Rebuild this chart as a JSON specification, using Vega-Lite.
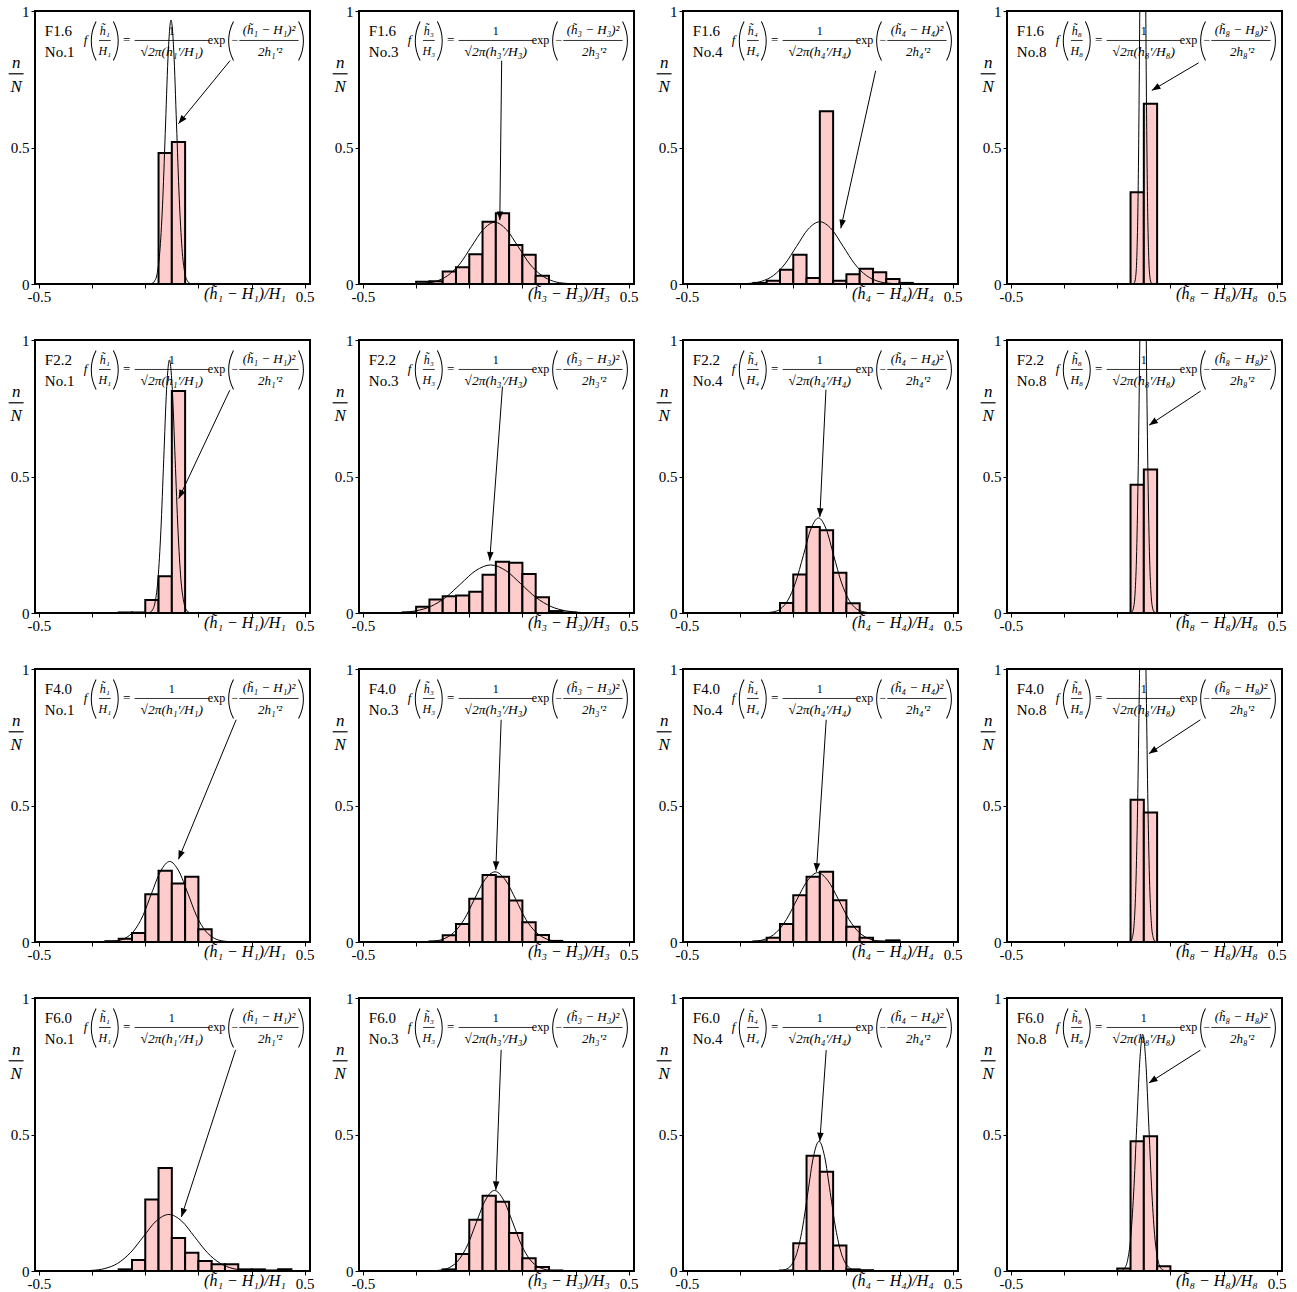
{
"$schema":"https://vega.github.io/schema/vega-lite/v6.json",
"autosize":{"type":"pad"},
"padding":{"left":7,"top":3,"right":0,"bottom":0},
"background":"white",
"config":{"view":{"stroke":"black","strokeWidth":2},"font":"Liberation Serif","axis":{"labelFont":"Liberation Serif","labelColor":"black","tickColor":"black"}},
"data":{"values":[
{"F":"F1.6","No":"No.1","k":"b","x0":-0.05,"x1":0,"v":0.48},{"F":"F1.6","No":"No.1","k":"b","x0":0,"x1":0.05,"v":0.52},
{"F":"F1.6","No":"No.3","k":"b","x0":-0.3,"x1":-0.25,"v":0.008},{"F":"F1.6","No":"No.3","k":"b","x0":-0.25,"x1":-0.2,"v":0.01},{"F":"F1.6","No":"No.3","k":"b","x0":-0.2,"x1":-0.15,"v":0.046},{"F":"F1.6","No":"No.3","k":"b","x0":-0.15,"x1":-0.1,"v":0.061},{"F":"F1.6","No":"No.3","k":"b","x0":-0.1,"x1":-0.05,"v":0.109},{"F":"F1.6","No":"No.3","k":"b","x0":-0.05,"x1":0,"v":0.228},{"F":"F1.6","No":"No.3","k":"b","x0":0,"x1":0.05,"v":0.259},{"F":"F1.6","No":"No.3","k":"b","x0":0.05,"x1":0.1,"v":0.143},{"F":"F1.6","No":"No.3","k":"b","x0":0.1,"x1":0.15,"v":0.107},{"F":"F1.6","No":"No.3","k":"b","x0":0.15,"x1":0.2,"v":0.03},
{"F":"F1.6","No":"No.4","k":"b","x0":-0.25,"x1":-0.2,"v":0.004},{"F":"F1.6","No":"No.4","k":"b","x0":-0.2,"x1":-0.15,"v":0.012},{"F":"F1.6","No":"No.4","k":"b","x0":-0.15,"x1":-0.1,"v":0.052},{"F":"F1.6","No":"No.4","k":"b","x0":-0.1,"x1":-0.05,"v":0.107},{"F":"F1.6","No":"No.4","k":"b","x0":-0.05,"x1":0,"v":0.022},{"F":"F1.6","No":"No.4","k":"b","x0":0,"x1":0.05,"v":0.633},{"F":"F1.6","No":"No.4","k":"b","x0":0.05,"x1":0.1,"v":0.012},{"F":"F1.6","No":"No.4","k":"b","x0":0.1,"x1":0.15,"v":0.036},{"F":"F1.6","No":"No.4","k":"b","x0":0.15,"x1":0.2,"v":0.056},{"F":"F1.6","No":"No.4","k":"b","x0":0.2,"x1":0.25,"v":0.043},{"F":"F1.6","No":"No.4","k":"b","x0":0.25,"x1":0.3,"v":0.018},{"F":"F1.6","No":"No.4","k":"b","x0":0.3,"x1":0.35,"v":0.004},
{"F":"F1.6","No":"No.8","k":"b","x0":-0.05,"x1":0,"v":0.336},{"F":"F1.6","No":"No.8","k":"b","x0":0,"x1":0.05,"v":0.66},
{"F":"F2.2","No":"No.1","k":"b","x0":-0.2,"x1":-0.15,"v":0.002},{"F":"F2.2","No":"No.1","k":"b","x0":-0.15,"x1":-0.1,"v":0.002},{"F":"F2.2","No":"No.1","k":"b","x0":-0.1,"x1":-0.05,"v":0.048},{"F":"F2.2","No":"No.1","k":"b","x0":-0.05,"x1":0,"v":0.135},{"F":"F2.2","No":"No.1","k":"b","x0":0,"x1":0.05,"v":0.813},
{"F":"F2.2","No":"No.3","k":"b","x0":-0.35,"x1":-0.3,"v":0.002},{"F":"F2.2","No":"No.3","k":"b","x0":-0.3,"x1":-0.25,"v":0.023},{"F":"F2.2","No":"No.3","k":"b","x0":-0.25,"x1":-0.2,"v":0.049},{"F":"F2.2","No":"No.3","k":"b","x0":-0.2,"x1":-0.15,"v":0.061},{"F":"F2.2","No":"No.3","k":"b","x0":-0.15,"x1":-0.1,"v":0.064},{"F":"F2.2","No":"No.3","k":"b","x0":-0.1,"x1":-0.05,"v":0.078},{"F":"F2.2","No":"No.3","k":"b","x0":-0.05,"x1":0,"v":0.14},{"F":"F2.2","No":"No.3","k":"b","x0":0,"x1":0.05,"v":0.188},{"F":"F2.2","No":"No.3","k":"b","x0":0.05,"x1":0.1,"v":0.184},{"F":"F2.2","No":"No.3","k":"b","x0":0.1,"x1":0.15,"v":0.143},{"F":"F2.2","No":"No.3","k":"b","x0":0.15,"x1":0.2,"v":0.058},{"F":"F2.2","No":"No.3","k":"b","x0":0.2,"x1":0.25,"v":0.007},{"F":"F2.2","No":"No.3","k":"b","x0":0.25,"x1":0.3,"v":0.002},
{"F":"F2.2","No":"No.4","k":"b","x0":-0.15,"x1":-0.1,"v":0.037},{"F":"F2.2","No":"No.4","k":"b","x0":-0.1,"x1":-0.05,"v":0.141},{"F":"F2.2","No":"No.4","k":"b","x0":-0.05,"x1":0,"v":0.315},{"F":"F2.2","No":"No.4","k":"b","x0":0,"x1":0.05,"v":0.303},{"F":"F2.2","No":"No.4","k":"b","x0":0.05,"x1":0.1,"v":0.147},{"F":"F2.2","No":"No.4","k":"b","x0":0.1,"x1":0.15,"v":0.036},
{"F":"F2.2","No":"No.8","k":"b","x0":-0.05,"x1":0,"v":0.47},{"F":"F2.2","No":"No.8","k":"b","x0":0,"x1":0.05,"v":0.526},
{"F":"F4.0","No":"No.1","k":"b","x0":-0.25,"x1":-0.2,"v":0.003},{"F":"F4.0","No":"No.1","k":"b","x0":-0.2,"x1":-0.15,"v":0.012},{"F":"F4.0","No":"No.1","k":"b","x0":-0.15,"x1":-0.1,"v":0.033},{"F":"F4.0","No":"No.1","k":"b","x0":-0.1,"x1":-0.05,"v":0.175},{"F":"F4.0","No":"No.1","k":"b","x0":-0.05,"x1":0,"v":0.261},{"F":"F4.0","No":"No.1","k":"b","x0":0,"x1":0.05,"v":0.214},{"F":"F4.0","No":"No.1","k":"b","x0":0.05,"x1":0.1,"v":0.239},{"F":"F4.0","No":"No.1","k":"b","x0":0.1,"x1":0.15,"v":0.047},
{"F":"F4.0","No":"No.3","k":"b","x0":-0.25,"x1":-0.2,"v":0.002},{"F":"F4.0","No":"No.3","k":"b","x0":-0.2,"x1":-0.15,"v":0.025},{"F":"F4.0","No":"No.3","k":"b","x0":-0.15,"x1":-0.1,"v":0.066},{"F":"F4.0","No":"No.3","k":"b","x0":-0.1,"x1":-0.05,"v":0.158},{"F":"F4.0","No":"No.3","k":"b","x0":-0.05,"x1":0,"v":0.245},{"F":"F4.0","No":"No.3","k":"b","x0":0,"x1":0.05,"v":0.239},{"F":"F4.0","No":"No.3","k":"b","x0":0.05,"x1":0.1,"v":0.152},{"F":"F4.0","No":"No.3","k":"b","x0":0.1,"x1":0.15,"v":0.072},{"F":"F4.0","No":"No.3","k":"b","x0":0.15,"x1":0.2,"v":0.026},{"F":"F4.0","No":"No.3","k":"b","x0":0.2,"x1":0.25,"v":0.004},
{"F":"F4.0","No":"No.4","k":"b","x0":-0.25,"x1":-0.2,"v":0.002},{"F":"F4.0","No":"No.4","k":"b","x0":-0.2,"x1":-0.15,"v":0.016},{"F":"F4.0","No":"No.4","k":"b","x0":-0.15,"x1":-0.1,"v":0.066},{"F":"F4.0","No":"No.4","k":"b","x0":-0.1,"x1":-0.05,"v":0.171},{"F":"F4.0","No":"No.4","k":"b","x0":-0.05,"x1":0,"v":0.239},{"F":"F4.0","No":"No.4","k":"b","x0":0,"x1":0.05,"v":0.257},{"F":"F4.0","No":"No.4","k":"b","x0":0.05,"x1":0.1,"v":0.153},{"F":"F4.0","No":"No.4","k":"b","x0":0.1,"x1":0.15,"v":0.056},{"F":"F4.0","No":"No.4","k":"b","x0":0.15,"x1":0.2,"v":0.016},{"F":"F4.0","No":"No.4","k":"b","x0":0.2,"x1":0.25,"v":0.002},{"F":"F4.0","No":"No.4","k":"b","x0":0.25,"x1":0.3,"v":0.006},
{"F":"F4.0","No":"No.8","k":"b","x0":-0.05,"x1":0,"v":0.521},{"F":"F4.0","No":"No.8","k":"b","x0":0,"x1":0.05,"v":0.474},
{"F":"F6.0","No":"No.1","k":"b","x0":-0.2,"x1":-0.15,"v":0.006},{"F":"F6.0","No":"No.1","k":"b","x0":-0.15,"x1":-0.1,"v":0.04},{"F":"F6.0","No":"No.1","k":"b","x0":-0.1,"x1":-0.05,"v":0.262},{"F":"F6.0","No":"No.1","k":"b","x0":-0.05,"x1":0,"v":0.377},{"F":"F6.0","No":"No.1","k":"b","x0":0,"x1":0.05,"v":0.121},{"F":"F6.0","No":"No.1","k":"b","x0":0.05,"x1":0.1,"v":0.067},{"F":"F6.0","No":"No.1","k":"b","x0":0.1,"x1":0.15,"v":0.037},{"F":"F6.0","No":"No.1","k":"b","x0":0.15,"x1":0.2,"v":0.025},{"F":"F6.0","No":"No.1","k":"b","x0":0.2,"x1":0.25,"v":0.025},{"F":"F6.0","No":"No.1","k":"b","x0":0.25,"x1":0.3,"v":0.006},{"F":"F6.0","No":"No.1","k":"b","x0":0.3,"x1":0.35,"v":0.006},{"F":"F6.0","No":"No.1","k":"b","x0":0.35,"x1":0.4,"v":0.002},{"F":"F6.0","No":"No.1","k":"b","x0":0.4,"x1":0.45,"v":0.006},
{"F":"F6.0","No":"No.3","k":"b","x0":-0.2,"x1":-0.15,"v":0.006},{"F":"F6.0","No":"No.3","k":"b","x0":-0.15,"x1":-0.1,"v":0.062},{"F":"F6.0","No":"No.3","k":"b","x0":-0.1,"x1":-0.05,"v":0.188},{"F":"F6.0","No":"No.3","k":"b","x0":-0.05,"x1":0,"v":0.276},{"F":"F6.0","No":"No.3","k":"b","x0":0,"x1":0.05,"v":0.254},{"F":"F6.0","No":"No.3","k":"b","x0":0.05,"x1":0.1,"v":0.139},{"F":"F6.0","No":"No.3","k":"b","x0":0.1,"x1":0.15,"v":0.047},{"F":"F6.0","No":"No.3","k":"b","x0":0.15,"x1":0.2,"v":0.015},{"F":"F6.0","No":"No.3","k":"b","x0":0.2,"x1":0.25,"v":0.002},
{"F":"F6.0","No":"No.4","k":"b","x0":-0.15,"x1":-0.1,"v":0.002},{"F":"F6.0","No":"No.4","k":"b","x0":-0.1,"x1":-0.05,"v":0.102},{"F":"F6.0","No":"No.4","k":"b","x0":-0.05,"x1":0,"v":0.422},{"F":"F6.0","No":"No.4","k":"b","x0":0,"x1":0.05,"v":0.364},{"F":"F6.0","No":"No.4","k":"b","x0":0.05,"x1":0.1,"v":0.093},{"F":"F6.0","No":"No.4","k":"b","x0":0.1,"x1":0.15,"v":0.006},{"F":"F6.0","No":"No.4","k":"b","x0":0.15,"x1":0.2,"v":0.003},
{"F":"F6.0","No":"No.8","k":"b","x0":-0.1,"x1":-0.05,"v":0.009},{"F":"F6.0","No":"No.8","k":"b","x0":-0.05,"x1":0,"v":0.475},{"F":"F6.0","No":"No.8","k":"b","x0":0,"x1":0.05,"v":0.494},{"F":"F6.0","No":"No.8","k":"b","x0":0.05,"x1":0.1,"v":0.017},

{"F":"F1.6","No":"No.1","k":"c","x":-0.0854,"v":0.0003},{"F":"F1.6","No":"No.1","k":"c","x":-0.0751,"v":0.002},{"F":"F1.6","No":"No.1","k":"c","x":-0.0648,"v":0.011},{"F":"F1.6","No":"No.1","k":"c","x":-0.0545,"v":0.042},{"F":"F1.6","No":"No.1","k":"c","x":-0.0442,"v":0.131},{"F":"F1.6","No":"No.1","k":"c","x":-0.0339,"v":0.314},{"F":"F1.6","No":"No.1","k":"c","x":-0.0236,"v":0.586},{"F":"F1.6","No":"No.1","k":"c","x":-0.0133,"v":0.853},{"F":"F1.6","No":"No.1","k":"c","x":-0.003,"v":0.967},{"F":"F1.6","No":"No.1","k":"c","x":0.0073,"v":0.853},{"F":"F1.6","No":"No.1","k":"c","x":0.0176,"v":0.586},{"F":"F1.6","No":"No.1","k":"c","x":0.0279,"v":0.314},{"F":"F1.6","No":"No.1","k":"c","x":0.0382,"v":0.131},{"F":"F1.6","No":"No.1","k":"c","x":0.0485,"v":0.042},{"F":"F1.6","No":"No.1","k":"c","x":0.0588,"v":0.011},{"F":"F1.6","No":"No.1","k":"c","x":0.0691,"v":0.002},{"F":"F1.6","No":"No.1","k":"c","x":0.0794,"v":0.0003},
{"F":"F1.6","No":"No.3","k":"c","x":-0.357,"v":0.0001},{"F":"F1.6","No":"No.3","k":"c","x":-0.313,"v":0.0005},{"F":"F1.6","No":"No.3","k":"c","x":-0.269,"v":0.0025},{"F":"F1.6","No":"No.3","k":"c","x":-0.225,"v":0.0099},{"F":"F1.6","No":"No.3","k":"c","x":-0.181,"v":0.031},{"F":"F1.6","No":"No.3","k":"c","x":-0.136,"v":0.073},{"F":"F1.6","No":"No.3","k":"c","x":-0.092,"v":0.137},{"F":"F1.6","No":"No.3","k":"c","x":-0.048,"v":0.199},{"F":"F1.6","No":"No.3","k":"c","x":-0.004,"v":0.226},{"F":"F1.6","No":"No.3","k":"c","x":0.04,"v":0.199},{"F":"F1.6","No":"No.3","k":"c","x":0.084,"v":0.137},{"F":"F1.6","No":"No.3","k":"c","x":0.128,"v":0.073},{"F":"F1.6","No":"No.3","k":"c","x":0.173,"v":0.031},{"F":"F1.6","No":"No.3","k":"c","x":0.217,"v":0.0099},{"F":"F1.6","No":"No.3","k":"c","x":0.261,"v":0.0025},{"F":"F1.6","No":"No.3","k":"c","x":0.305,"v":0.0005},{"F":"F1.6","No":"No.3","k":"c","x":0.349,"v":0.0001},
{"F":"F1.6","No":"No.4","k":"c","x":-0.35,"v":0.0001},{"F":"F1.6","No":"No.4","k":"c","x":-0.306,"v":0.0005},{"F":"F1.6","No":"No.4","k":"c","x":-0.2625,"v":0.0025},{"F":"F1.6","No":"No.4","k":"c","x":-0.219,"v":0.01},{"F":"F1.6","No":"No.4","k":"c","x":-0.175,"v":0.031},{"F":"F1.6","No":"No.4","k":"c","x":-0.131,"v":0.074},{"F":"F1.6","No":"No.4","k":"c","x":-0.0875,"v":0.138},{"F":"F1.6","No":"No.4","k":"c","x":-0.044,"v":0.201},{"F":"F1.6","No":"No.4","k":"c","x":0,"v":0.228},{"F":"F1.6","No":"No.4","k":"c","x":0.044,"v":0.201},{"F":"F1.6","No":"No.4","k":"c","x":0.0875,"v":0.138},{"F":"F1.6","No":"No.4","k":"c","x":0.131,"v":0.074},{"F":"F1.6","No":"No.4","k":"c","x":0.175,"v":0.031},{"F":"F1.6","No":"No.4","k":"c","x":0.219,"v":0.01},{"F":"F1.6","No":"No.4","k":"c","x":0.2625,"v":0.0025},{"F":"F1.6","No":"No.4","k":"c","x":0.306,"v":0.0005},{"F":"F1.6","No":"No.4","k":"c","x":0.35,"v":0.0001},
{"F":"F1.6","No":"No.8","k":"c","x":-0.04,"v":0.0007},{"F":"F1.6","No":"No.8","k":"c","x":-0.0355,"v":0.005},{"F":"F1.6","No":"No.8","k":"c","x":-0.031,"v":0.024},{"F":"F1.6","No":"No.8","k":"c","x":-0.0265,"v":0.097},{"F":"F1.6","No":"No.8","k":"c","x":-0.022,"v":0.298},{"F":"F1.6","No":"No.8","k":"c","x":-0.0175,"v":0.714},{"F":"F1.6","No":"No.8","k":"c","x":-0.013,"v":1.334},{"F":"F1.6","No":"No.8","k":"c","x":-0.0085,"v":1.942},{"F":"F1.6","No":"No.8","k":"c","x":-0.004,"v":2.2},{"F":"F1.6","No":"No.8","k":"c","x":0.0005,"v":1.942},{"F":"F1.6","No":"No.8","k":"c","x":0.005,"v":1.334},{"F":"F1.6","No":"No.8","k":"c","x":0.0095,"v":0.714},{"F":"F1.6","No":"No.8","k":"c","x":0.014,"v":0.298},{"F":"F1.6","No":"No.8","k":"c","x":0.0185,"v":0.097},{"F":"F1.6","No":"No.8","k":"c","x":0.023,"v":0.024},{"F":"F1.6","No":"No.8","k":"c","x":0.0275,"v":0.005},{"F":"F1.6","No":"No.8","k":"c","x":0.032,"v":0.0007},
{"F":"F2.2","No":"No.1","k":"c","x":-0.095,"v":0.0003},{"F":"F2.2","No":"No.1","k":"c","x":-0.0843,"v":0.002},{"F":"F2.2","No":"No.1","k":"c","x":-0.0735,"v":0.01},{"F":"F2.2","No":"No.1","k":"c","x":-0.0628,"v":0.041},{"F":"F2.2","No":"No.1","k":"c","x":-0.052,"v":0.125},{"F":"F2.2","No":"No.1","k":"c","x":-0.0413,"v":0.301},{"F":"F2.2","No":"No.1","k":"c","x":-0.0305,"v":0.562},{"F":"F2.2","No":"No.1","k":"c","x":-0.0198,"v":0.818},{"F":"F2.2","No":"No.1","k":"c","x":-0.009,"v":0.927},{"F":"F2.2","No":"No.1","k":"c","x":0.0018,"v":0.818},{"F":"F2.2","No":"No.1","k":"c","x":0.0125,"v":0.562},{"F":"F2.2","No":"No.1","k":"c","x":0.0233,"v":0.301},{"F":"F2.2","No":"No.1","k":"c","x":0.034,"v":0.125},{"F":"F2.2","No":"No.1","k":"c","x":0.0448,"v":0.041},{"F":"F2.2","No":"No.1","k":"c","x":0.0555,"v":0.01},{"F":"F2.2","No":"No.1","k":"c","x":0.0663,"v":0.002},{"F":"F2.2","No":"No.1","k":"c","x":0.077,"v":0.0003},
{"F":"F2.2","No":"No.3","k":"c","x":-0.471,"v":0.0001},{"F":"F2.2","No":"No.3","k":"c","x":-0.415,"v":0.0004},{"F":"F2.2","No":"No.3","k":"c","x":-0.358,"v":0.002},{"F":"F2.2","No":"No.3","k":"c","x":-0.302,"v":0.0077},{"F":"F2.2","No":"No.3","k":"c","x":-0.245,"v":0.024},{"F":"F2.2","No":"No.3","k":"c","x":-0.189,"v":0.057},{"F":"F2.2","No":"No.3","k":"c","x":-0.132,"v":0.107},{"F":"F2.2","No":"No.3","k":"c","x":-0.076,"v":0.155},{"F":"F2.2","No":"No.3","k":"c","x":-0.019,"v":0.176},{"F":"F2.2","No":"No.3","k":"c","x":0.038,"v":0.155},{"F":"F2.2","No":"No.3","k":"c","x":0.094,"v":0.107},{"F":"F2.2","No":"No.3","k":"c","x":0.151,"v":0.057},{"F":"F2.2","No":"No.3","k":"c","x":0.207,"v":0.024},{"F":"F2.2","No":"No.3","k":"c","x":0.264,"v":0.0077},{"F":"F2.2","No":"No.3","k":"c","x":0.32,"v":0.002},{"F":"F2.2","No":"No.3","k":"c","x":0.377,"v":0.0004},{"F":"F2.2","No":"No.3","k":"c","x":0.433,"v":0.0001},
{"F":"F2.2","No":"No.4","k":"c","x":-0.234,"v":0.0001},{"F":"F2.2","No":"No.4","k":"c","x":-0.206,"v":0.0008},{"F":"F2.2","No":"No.4","k":"c","x":-0.177,"v":0.0039},{"F":"F2.2","No":"No.4","k":"c","x":-0.148,"v":0.015},{"F":"F2.2","No":"No.4","k":"c","x":-0.12,"v":0.047},{"F":"F2.2","No":"No.4","k":"c","x":-0.091,"v":0.113},{"F":"F2.2","No":"No.4","k":"c","x":-0.062,"v":0.211},{"F":"F2.2","No":"No.4","k":"c","x":-0.034,"v":0.307},{"F":"F2.2","No":"No.4","k":"c","x":-0.005,"v":0.348},{"F":"F2.2","No":"No.4","k":"c","x":0.024,"v":0.307},{"F":"F2.2","No":"No.4","k":"c","x":0.052,"v":0.211},{"F":"F2.2","No":"No.4","k":"c","x":0.081,"v":0.113},{"F":"F2.2","No":"No.4","k":"c","x":0.11,"v":0.047},{"F":"F2.2","No":"No.4","k":"c","x":0.138,"v":0.015},{"F":"F2.2","No":"No.4","k":"c","x":0.167,"v":0.0039},{"F":"F2.2","No":"No.4","k":"c","x":0.196,"v":0.0008},{"F":"F2.2","No":"No.4","k":"c","x":0.224,"v":0.0001},
{"F":"F2.2","No":"No.8","k":"c","x":-0.051,"v":0.0005},{"F":"F2.2","No":"No.8","k":"c","x":-0.045,"v":0.0037},{"F":"F2.2","No":"No.8","k":"c","x":-0.039,"v":0.018},{"F":"F2.2","No":"No.8","k":"c","x":-0.033,"v":0.073},{"F":"F2.2","No":"No.8","k":"c","x":-0.027,"v":0.225},{"F":"F2.2","No":"No.8","k":"c","x":-0.021,"v":0.539},{"F":"F2.2","No":"No.8","k":"c","x":-0.015,"v":1.007},{"F":"F2.2","No":"No.8","k":"c","x":-0.009,"v":1.465},{"F":"F2.2","No":"No.8","k":"c","x":-0.003,"v":1.66},{"F":"F2.2","No":"No.8","k":"c","x":0.003,"v":1.465},{"F":"F2.2","No":"No.8","k":"c","x":0.009,"v":1.007},{"F":"F2.2","No":"No.8","k":"c","x":0.015,"v":0.539},{"F":"F2.2","No":"No.8","k":"c","x":0.021,"v":0.225},{"F":"F2.2","No":"No.8","k":"c","x":0.027,"v":0.073},{"F":"F2.2","No":"No.8","k":"c","x":0.033,"v":0.018},{"F":"F2.2","No":"No.8","k":"c","x":0.039,"v":0.0037},{"F":"F2.2","No":"No.8","k":"c","x":0.045,"v":0.0005},
{"F":"F4.0","No":"No.1","k":"c","x":-0.278,"v":0.0001},{"F":"F4.0","No":"No.1","k":"c","x":-0.245,"v":0.0006},{"F":"F4.0","No":"No.1","k":"c","x":-0.211,"v":0.0033},{"F":"F4.0","No":"No.1","k":"c","x":-0.177,"v":0.013},{"F":"F4.0","No":"No.1","k":"c","x":-0.143,"v":0.04},{"F":"F4.0","No":"No.1","k":"c","x":-0.109,"v":0.096},{"F":"F4.0","No":"No.1","k":"c","x":-0.076,"v":0.179},{"F":"F4.0","No":"No.1","k":"c","x":-0.042,"v":0.26},{"F":"F4.0","No":"No.1","k":"c","x":-0.008,"v":0.295},{"F":"F4.0","No":"No.1","k":"c","x":0.026,"v":0.26},{"F":"F4.0","No":"No.1","k":"c","x":0.06,"v":0.179},{"F":"F4.0","No":"No.1","k":"c","x":0.093,"v":0.096},{"F":"F4.0","No":"No.1","k":"c","x":0.127,"v":0.04},{"F":"F4.0","No":"No.1","k":"c","x":0.161,"v":0.013},{"F":"F4.0","No":"No.1","k":"c","x":0.195,"v":0.0033},{"F":"F4.0","No":"No.1","k":"c","x":0.229,"v":0.0006},{"F":"F4.0","No":"No.1","k":"c","x":0.262,"v":0.0001},
{"F":"F4.0","No":"No.3","k":"c","x":-0.313,"v":0.0001},{"F":"F4.0","No":"No.3","k":"c","x":-0.275,"v":0.0006},{"F":"F4.0","No":"No.3","k":"c","x":-0.236,"v":0.0029},{"F":"F4.0","No":"No.3","k":"c","x":-0.197,"v":0.011},{"F":"F4.0","No":"No.3","k":"c","x":-0.158,"v":0.035},{"F":"F4.0","No":"No.3","k":"c","x":-0.119,"v":0.083},{"F":"F4.0","No":"No.3","k":"c","x":-0.081,"v":0.156},{"F":"F4.0","No":"No.3","k":"c","x":-0.042,"v":0.227},{"F":"F4.0","No":"No.3","k":"c","x":-0.003,"v":0.257},{"F":"F4.0","No":"No.3","k":"c","x":0.036,"v":0.227},{"F":"F4.0","No":"No.3","k":"c","x":0.075,"v":0.156},{"F":"F4.0","No":"No.3","k":"c","x":0.113,"v":0.083},{"F":"F4.0","No":"No.3","k":"c","x":0.152,"v":0.035},{"F":"F4.0","No":"No.3","k":"c","x":0.191,"v":0.011},{"F":"F4.0","No":"No.3","k":"c","x":0.23,"v":0.0029},{"F":"F4.0","No":"No.3","k":"c","x":0.269,"v":0.0006},{"F":"F4.0","No":"No.3","k":"c","x":0.307,"v":0.0001},
{"F":"F4.0","No":"No.4","k":"c","x":-0.322,"v":0.0001},{"F":"F4.0","No":"No.4","k":"c","x":-0.283,"v":0.0006},{"F":"F4.0","No":"No.4","k":"c","x":-0.244,"v":0.0028},{"F":"F4.0","No":"No.4","k":"c","x":-0.204,"v":0.011},{"F":"F4.0","No":"No.4","k":"c","x":-0.165,"v":0.034},{"F":"F4.0","No":"No.4","k":"c","x":-0.126,"v":0.082},{"F":"F4.0","No":"No.4","k":"c","x":-0.087,"v":0.154},{"F":"F4.0","No":"No.4","k":"c","x":-0.047,"v":0.224},{"F":"F4.0","No":"No.4","k":"c","x":-0.008,"v":0.254},{"F":"F4.0","No":"No.4","k":"c","x":0.031,"v":0.224},{"F":"F4.0","No":"No.4","k":"c","x":0.071,"v":0.154},{"F":"F4.0","No":"No.4","k":"c","x":0.11,"v":0.082},{"F":"F4.0","No":"No.4","k":"c","x":0.149,"v":0.034},{"F":"F4.0","No":"No.4","k":"c","x":0.188,"v":0.011},{"F":"F4.0","No":"No.4","k":"c","x":0.228,"v":0.0028},{"F":"F4.0","No":"No.4","k":"c","x":0.267,"v":0.0006},{"F":"F4.0","No":"No.4","k":"c","x":0.306,"v":0.0001},
{"F":"F4.0","No":"No.8","k":"c","x":-0.056,"v":0.0005},{"F":"F4.0","No":"No.8","k":"c","x":-0.0495,"v":0.0034},{"F":"F4.0","No":"No.8","k":"c","x":-0.043,"v":0.017},{"F":"F4.0","No":"No.8","k":"c","x":-0.0365,"v":0.067},{"F":"F4.0","No":"No.8","k":"c","x":-0.03,"v":0.207},{"F":"F4.0","No":"No.8","k":"c","x":-0.0235,"v":0.497},{"F":"F4.0","No":"No.8","k":"c","x":-0.017,"v":0.928},{"F":"F4.0","No":"No.8","k":"c","x":-0.0105,"v":1.35},{"F":"F4.0","No":"No.8","k":"c","x":-0.004,"v":1.53},{"F":"F4.0","No":"No.8","k":"c","x":0.0025,"v":1.35},{"F":"F4.0","No":"No.8","k":"c","x":0.009,"v":0.928},{"F":"F4.0","No":"No.8","k":"c","x":0.0155,"v":0.497},{"F":"F4.0","No":"No.8","k":"c","x":0.022,"v":0.207},{"F":"F4.0","No":"No.8","k":"c","x":0.0285,"v":0.067},{"F":"F4.0","No":"No.8","k":"c","x":0.035,"v":0.017},{"F":"F4.0","No":"No.8","k":"c","x":0.0415,"v":0.0034},{"F":"F4.0","No":"No.8","k":"c","x":0.048,"v":0.0005},
{"F":"F6.0","No":"No.1","k":"c","x":-0.397,"v":0.0001},{"F":"F6.0","No":"No.1","k":"c","x":-0.348,"v":0.0005},{"F":"F6.0","No":"No.1","k":"c","x":-0.3,"v":0.0023},{"F":"F6.0","No":"No.1","k":"c","x":-0.252,"v":0.0091},{"F":"F6.0","No":"No.1","k":"c","x":-0.204,"v":0.028},{"F":"F6.0","No":"No.1","k":"c","x":-0.156,"v":0.067},{"F":"F6.0","No":"No.1","k":"c","x":-0.107,"v":0.126},{"F":"F6.0","No":"No.1","k":"c","x":-0.059,"v":0.183},{"F":"F6.0","No":"No.1","k":"c","x":-0.011,"v":0.207},{"F":"F6.0","No":"No.1","k":"c","x":0.037,"v":0.183},{"F":"F6.0","No":"No.1","k":"c","x":0.085,"v":0.126},{"F":"F6.0","No":"No.1","k":"c","x":0.134,"v":0.067},{"F":"F6.0","No":"No.1","k":"c","x":0.182,"v":0.028},{"F":"F6.0","No":"No.1","k":"c","x":0.23,"v":0.0091},{"F":"F6.0","No":"No.1","k":"c","x":0.278,"v":0.0023},{"F":"F6.0","No":"No.1","k":"c","x":0.326,"v":0.0005},{"F":"F6.0","No":"No.1","k":"c","x":0.375,"v":0.0001},
{"F":"F6.0","No":"No.3","k":"c","x":-0.275,"v":0.0001},{"F":"F6.0","No":"No.3","k":"c","x":-0.242,"v":0.0006},{"F":"F6.0","No":"No.3","k":"c","x":-0.208,"v":0.0033},{"F":"F6.0","No":"No.3","k":"c","x":-0.174,"v":0.013},{"F":"F6.0","No":"No.3","k":"c","x":-0.14,"v":0.04},{"F":"F6.0","No":"No.3","k":"c","x":-0.106,"v":0.096},{"F":"F6.0","No":"No.3","k":"c","x":-0.073,"v":0.179},{"F":"F6.0","No":"No.3","k":"c","x":-0.039,"v":0.26},{"F":"F6.0","No":"No.3","k":"c","x":-0.005,"v":0.295},{"F":"F6.0","No":"No.3","k":"c","x":0.029,"v":0.26},{"F":"F6.0","No":"No.3","k":"c","x":0.063,"v":0.179},{"F":"F6.0","No":"No.3","k":"c","x":0.096,"v":0.096},{"F":"F6.0","No":"No.3","k":"c","x":0.13,"v":0.04},{"F":"F6.0","No":"No.3","k":"c","x":0.164,"v":0.013},{"F":"F6.0","No":"No.3","k":"c","x":0.198,"v":0.0033},{"F":"F6.0","No":"No.3","k":"c","x":0.232,"v":0.0006},{"F":"F6.0","No":"No.3","k":"c","x":0.265,"v":0.0001},
{"F":"F6.0","No":"No.4","k":"c","x":-0.171,"v":0.0002},{"F":"F6.0","No":"No.4","k":"c","x":-0.15,"v":0.001},{"F":"F6.0","No":"No.4","k":"c","x":-0.129,"v":0.0053},{"F":"F6.0","No":"No.4","k":"c","x":-0.108,"v":0.021},{"F":"F6.0","No":"No.4","k":"c","x":-0.087,"v":0.064},{"F":"F6.0","No":"No.4","k":"c","x":-0.066,"v":0.154},{"F":"F6.0","No":"No.4","k":"c","x":-0.045,"v":0.288},{"F":"F6.0","No":"No.4","k":"c","x":-0.024,"v":0.419},{"F":"F6.0","No":"No.4","k":"c","x":-0.003,"v":0.475},{"F":"F6.0","No":"No.4","k":"c","x":0.018,"v":0.419},{"F":"F6.0","No":"No.4","k":"c","x":0.039,"v":0.288},{"F":"F6.0","No":"No.4","k":"c","x":0.06,"v":0.154},{"F":"F6.0","No":"No.4","k":"c","x":0.081,"v":0.064},{"F":"F6.0","No":"No.4","k":"c","x":0.102,"v":0.021},{"F":"F6.0","No":"No.4","k":"c","x":0.123,"v":0.0053},{"F":"F6.0","No":"No.4","k":"c","x":0.144,"v":0.001},{"F":"F6.0","No":"No.4","k":"c","x":0.165,"v":0.0002},
{"F":"F6.0","No":"No.8","k":"c","x":-0.096,"v":0.0003},{"F":"F6.0","No":"No.8","k":"c","x":-0.0845,"v":0.0019},{"F":"F6.0","No":"No.8","k":"c","x":-0.073,"v":0.0096},{"F":"F6.0","No":"No.8","k":"c","x":-0.0615,"v":0.038},{"F":"F6.0","No":"No.8","k":"c","x":-0.05,"v":0.117},{"F":"F6.0","No":"No.8","k":"c","x":-0.0385,"v":0.282},{"F":"F6.0","No":"No.8","k":"c","x":-0.027,"v":0.526},{"F":"F6.0","No":"No.8","k":"c","x":-0.0155,"v":0.765},{"F":"F6.0","No":"No.8","k":"c","x":-0.004,"v":0.867},{"F":"F6.0","No":"No.8","k":"c","x":0.0075,"v":0.765},{"F":"F6.0","No":"No.8","k":"c","x":0.019,"v":0.526},{"F":"F6.0","No":"No.8","k":"c","x":0.0305,"v":0.282},{"F":"F6.0","No":"No.8","k":"c","x":0.042,"v":0.117},{"F":"F6.0","No":"No.8","k":"c","x":0.0535,"v":0.038},{"F":"F6.0","No":"No.8","k":"c","x":0.065,"v":0.0096},{"F":"F6.0","No":"No.8","k":"c","x":0.0765,"v":0.0019},{"F":"F6.0","No":"No.8","k":"c","x":0.088,"v":0.0003},

{"F":"F1.6","No":"No.1","k":"a","ax":0.219,"ay":0.818,"bx":0.025,"by":0.587,"g":39.2},
{"F":"F1.6","No":"No.3","k":"a","ax":0.022,"ay":0.818,"bx":0.015,"by":0.234,"g":0.6},
{"F":"F1.6","No":"No.4","k":"a","ax":0.21,"ay":0.781,"bx":0.079,"by":0.204,"g":12.5},
{"F":"F1.6","No":"No.8","k":"a","ax":0.206,"ay":0.81,"bx":0.03,"by":0.709,"g":58.9},
{"F":"F2.2","No":"No.1","k":"a","ax":0.218,"ay":0.816,"bx":0.026,"by":0.419,"g":25.1},
{"F":"F2.2","No":"No.3","k":"a","ax":0.025,"ay":0.829,"bx":-0.023,"by":0.192,"g":4.2},
{"F":"F2.2","No":"No.4","k":"a","ax":0.023,"ay":0.818,"bx":0.0,"by":0.352,"g":2.7},
{"F":"F2.2","No":"No.8","k":"a","ax":0.214,"ay":0.813,"bx":0.02,"by":0.688,"g":56.2},
{"F":"F4.0","No":"No.1","k":"a","ax":0.242,"ay":0.814,"bx":0.025,"by":0.303,"g":21.7},
{"F":"F4.0","No":"No.3","k":"a","ax":0.02,"ay":0.814,"bx":0.0,"by":0.264,"g":1.9},
{"F":"F4.0","No":"No.4","k":"a","ax":0.024,"ay":0.814,"bx":-0.013,"by":0.257,"g":3.6},
{"F":"F4.0","No":"No.8","k":"a","ax":0.213,"ay":0.814,"bx":0.019,"by":0.69,"g":56},
{"F":"F6.0","No":"No.1","k":"a","ax":0.24,"ay":0.81,"bx":0.036,"by":0.198,"g":17.5},
{"F":"F6.0","No":"No.3","k":"a","ax":0.02,"ay":0.81,"bx":0.0,"by":0.297,"g":2},
{"F":"F6.0","No":"No.4","k":"a","ax":0.024,"ay":0.809,"bx":0.0,"by":0.475,"g":3.9},
{"F":"F6.0","No":"No.8","k":"a","ax":0.213,"ay":0.809,"bx":0.019,"by":0.689,"g":56.8},

{"F":"F1.6","No":"No.1","k":"L","t1":"h\u0303\u2081","t2":"H\u2081","t3":"\u221a2\u03c0(h\u2081'/H\u2081)","t4":"(h\u0303\u2081 \u2212 H\u2081)\u00b2","t5":"2h\u2081'\u00b2","t6":"(h\u0303\u2081 \u2212 H\u2081)/H\u2081"},
{"F":"F2.2","No":"No.1","k":"L","t1":"h\u0303\u2081","t2":"H\u2081","t3":"\u221a2\u03c0(h\u2081'/H\u2081)","t4":"(h\u0303\u2081 \u2212 H\u2081)\u00b2","t5":"2h\u2081'\u00b2","t6":"(h\u0303\u2081 \u2212 H\u2081)/H\u2081"},
{"F":"F4.0","No":"No.1","k":"L","t1":"h\u0303\u2081","t2":"H\u2081","t3":"\u221a2\u03c0(h\u2081'/H\u2081)","t4":"(h\u0303\u2081 \u2212 H\u2081)\u00b2","t5":"2h\u2081'\u00b2","t6":"(h\u0303\u2081 \u2212 H\u2081)/H\u2081"},
{"F":"F6.0","No":"No.1","k":"L","t1":"h\u0303\u2081","t2":"H\u2081","t3":"\u221a2\u03c0(h\u2081'/H\u2081)","t4":"(h\u0303\u2081 \u2212 H\u2081)\u00b2","t5":"2h\u2081'\u00b2","t6":"(h\u0303\u2081 \u2212 H\u2081)/H\u2081"},
{"F":"F1.6","No":"No.3","k":"L","t1":"h\u0303\u2083","t2":"H\u2083","t3":"\u221a2\u03c0(h\u2083'/H\u2083)","t4":"(h\u0303\u2083 \u2212 H\u2083)\u00b2","t5":"2h\u2083'\u00b2","t6":"(h\u0303\u2083 \u2212 H\u2083)/H\u2083"},
{"F":"F2.2","No":"No.3","k":"L","t1":"h\u0303\u2083","t2":"H\u2083","t3":"\u221a2\u03c0(h\u2083'/H\u2083)","t4":"(h\u0303\u2083 \u2212 H\u2083)\u00b2","t5":"2h\u2083'\u00b2","t6":"(h\u0303\u2083 \u2212 H\u2083)/H\u2083"},
{"F":"F4.0","No":"No.3","k":"L","t1":"h\u0303\u2083","t2":"H\u2083","t3":"\u221a2\u03c0(h\u2083'/H\u2083)","t4":"(h\u0303\u2083 \u2212 H\u2083)\u00b2","t5":"2h\u2083'\u00b2","t6":"(h\u0303\u2083 \u2212 H\u2083)/H\u2083"},
{"F":"F6.0","No":"No.3","k":"L","t1":"h\u0303\u2083","t2":"H\u2083","t3":"\u221a2\u03c0(h\u2083'/H\u2083)","t4":"(h\u0303\u2083 \u2212 H\u2083)\u00b2","t5":"2h\u2083'\u00b2","t6":"(h\u0303\u2083 \u2212 H\u2083)/H\u2083"},
{"F":"F1.6","No":"No.4","k":"L","t1":"h\u0303\u2084","t2":"H\u2084","t3":"\u221a2\u03c0(h\u2084'/H\u2084)","t4":"(h\u0303\u2084 \u2212 H\u2084)\u00b2","t5":"2h\u2084'\u00b2","t6":"(h\u0303\u2084 \u2212 H\u2084)/H\u2084"},
{"F":"F2.2","No":"No.4","k":"L","t1":"h\u0303\u2084","t2":"H\u2084","t3":"\u221a2\u03c0(h\u2084'/H\u2084)","t4":"(h\u0303\u2084 \u2212 H\u2084)\u00b2","t5":"2h\u2084'\u00b2","t6":"(h\u0303\u2084 \u2212 H\u2084)/H\u2084"},
{"F":"F4.0","No":"No.4","k":"L","t1":"h\u0303\u2084","t2":"H\u2084","t3":"\u221a2\u03c0(h\u2084'/H\u2084)","t4":"(h\u0303\u2084 \u2212 H\u2084)\u00b2","t5":"2h\u2084'\u00b2","t6":"(h\u0303\u2084 \u2212 H\u2084)/H\u2084"},
{"F":"F6.0","No":"No.4","k":"L","t1":"h\u0303\u2084","t2":"H\u2084","t3":"\u221a2\u03c0(h\u2084'/H\u2084)","t4":"(h\u0303\u2084 \u2212 H\u2084)\u00b2","t5":"2h\u2084'\u00b2","t6":"(h\u0303\u2084 \u2212 H\u2084)/H\u2084"},
{"F":"F1.6","No":"No.8","k":"L","t1":"h\u0303\u2088","t2":"H\u2088","t3":"\u221a2\u03c0(h\u2088'/H\u2088)","t4":"(h\u0303\u2088 \u2212 H\u2088)\u00b2","t5":"2h\u2088'\u00b2","t6":"(h\u0303\u2088 \u2212 H\u2088)/H\u2088"},
{"F":"F2.2","No":"No.8","k":"L","t1":"h\u0303\u2088","t2":"H\u2088","t3":"\u221a2\u03c0(h\u2088'/H\u2088)","t4":"(h\u0303\u2088 \u2212 H\u2088)\u00b2","t5":"2h\u2088'\u00b2","t6":"(h\u0303\u2088 \u2212 H\u2088)/H\u2088"},
{"F":"F4.0","No":"No.8","k":"L","t1":"h\u0303\u2088","t2":"H\u2088","t3":"\u221a2\u03c0(h\u2088'/H\u2088)","t4":"(h\u0303\u2088 \u2212 H\u2088)\u00b2","t5":"2h\u2088'\u00b2","t6":"(h\u0303\u2088 \u2212 H\u2088)/H\u2088"},
{"F":"F6.0","No":"No.8","k":"L","t1":"h\u0303\u2088","t2":"H\u2088","t3":"\u221a2\u03c0(h\u2088'/H\u2088)","t4":"(h\u0303\u2088 \u2212 H\u2088)\u00b2","t5":"2h\u2088'\u00b2","t6":"(h\u0303\u2088 \u2212 H\u2088)/H\u2088"}
]},
"facet":{
"row":{"field":"F","type":"nominal","sort":["F1.6","F2.2","F4.0","F6.0"],"title":null,"header":{"labels":false,"title":null}},
"column":{"field":"No","type":"nominal","sort":["No.1","No.3","No.4","No.8"],"title":null,"header":{"labels":false,"title":null}}
},
"spacing":{"row":56,"column":49},
"bounds":"flush",
"resolve":{"axis":{"x":"independent","y":"independent"}},
"spec":{
"width":275,"height":273,
"layer":[
{"transform":[{"filter":"datum.k=='b'"}],
 "mark":{"type":"rect","fill":"#ffcccc","stroke":"black","strokeWidth":2},
 "encoding":{
  "x":{"field":"x0","type":"quantitative","title":null,"scale":{"domain":[-0.515,0.52],"nice":false,"zero":false},
   "axis":{"title":null,"values":[-0.5,-0.45,-0.4,-0.35,-0.3,-0.25,-0.2,-0.15,-0.1,-0.05,0,0.05,0.1,0.15,0.2,0.25,0.3,0.35,0.4,0.45,0.5],
    "labelExpr":"abs(datum.value) < 0.001 ? '0' : (abs(datum.value - 0.5) < 0.001 ? '0.5' : (abs(datum.value + 0.5) < 0.001 ? '-0.5' : ''))",
    "tickSize":4,"domain":false,"grid":false,"labelFontSize":15,"labelPadding":1,"labelFlush":false,"labelOverlap":false}},
  "x2":{"field":"x1"},
  "y":{"field":"v","type":"quantitative","title":null,"scale":{"domain":[0,1],"nice":false,"zero":false},
   "axis":{"title":null,"values":[0,0.5,1],"format":"~g","tickSize":4,"domain":false,"grid":false,"labelFontSize":15,"labelPadding":2,"labelFlush":false,"labelOverlap":false}},
  "y2":{"datum":0}
 }},
{"transform":[{"filter":"datum.k=='c'"}],
 "mark":{"type":"line","color":"black","strokeWidth":1,"interpolate":"monotone","clip":true},
 "encoding":{
  "x":{"field":"x","type":"quantitative","title":null,"scale":{"domain":[-0.515,0.52],"nice":false,"zero":false}},
  "y":{"field":"v","type":"quantitative","title":null,"scale":{"domain":[0,1],"nice":false,"zero":false}}
 }},
{"transform":[{"filter":"datum.k=='a'"}],
 "mark":{"type":"rule","color":"black","strokeWidth":1},
 "encoding":{
  "x":{"field":"ax","type":"quantitative","title":null,"scale":{"domain":[-0.515,0.52],"nice":false,"zero":false}},
  "y":{"field":"ay","type":"quantitative","title":null,"scale":{"domain":[0,1],"nice":false,"zero":false}},
  "x2":{"field":"bx"},"y2":{"field":"by"}
 }},
{"transform":[{"filter":"datum.k=='a'"}],
 "mark":{"type":"point","shape":"M0,0L-0.38,-1L0.38,-1Z","filled":true,"color":"black","opacity":1,"size":300},
 "encoding":{
  "x":{"field":"bx","type":"quantitative","title":null,"scale":{"domain":[-0.515,0.52],"nice":false,"zero":false}},
  "y":{"field":"by","type":"quantitative","title":null,"scale":{"domain":[0,1],"nice":false,"zero":false}},
  "angle":{"field":"g","type":"quantitative","scale":null}
 }},
{"transform":[{"filter":"datum.k=='L'"}],
 "mark":{"type":"arc","radius":42,"radius2":41,"theta":4.224,"theta2":5.2,"fill":"black"},
 "encoding":{"x":{"datum":-0.147,"type":"quantitative","title":null,"scale":{"domain":[-0.515,0.52],"nice":false,"zero":false}},"y":{"datum":0.89,"type":"quantitative","title":null,"scale":{"domain":[0,1],"nice":false,"zero":false}}}},
{"transform":[{"filter":"datum.k=='L'"}],
 "mark":{"type":"arc","radius":42,"radius2":41,"theta":1.082,"theta2":2.06,"fill":"black"},
 "encoding":{"x":{"datum":-0.358,"type":"quantitative","title":null,"scale":{"domain":[-0.515,0.52],"nice":false,"zero":false}},"y":{"datum":0.89,"type":"quantitative","title":null,"scale":{"domain":[0,1],"nice":false,"zero":false}}}},
{"transform":[{"filter":"datum.k=='L'"}],
 "mark":{"type":"arc","radius":42,"radius2":41,"theta":4.224,"theta2":5.2,"fill":"black"},
 "encoding":{"x":{"datum":0.37,"type":"quantitative","title":null,"scale":{"domain":[-0.515,0.52],"nice":false,"zero":false}},"y":{"datum":0.89,"type":"quantitative","title":null,"scale":{"domain":[0,1],"nice":false,"zero":false}}}},
{"transform":[{"filter":"datum.k=='L'"}],
 "mark":{"type":"arc","radius":42,"radius2":41,"theta":1.082,"theta2":2.06,"fill":"black"},
 "encoding":{"x":{"datum":0.339,"type":"quantitative","title":null,"scale":{"domain":[-0.515,0.52],"nice":false,"zero":false}},"y":{"datum":0.89,"type":"quantitative","title":null,"scale":{"domain":[0,1],"nice":false,"zero":false}}}},
{"transform":[{"filter":"datum.k=='L'"}],
 "mark":{"type":"text","font":"Liberation Serif","fontSize":15,"align":"left","baseline":"middle","color":"black"},
 "encoding":{"x":{"datum":-0.478,"type":"quantitative","title":null,"scale":{"domain":[-0.515,0.52],"nice":false,"zero":false}},"y":{"datum":0.928,"type":"quantitative","title":null,"scale":{"domain":[0,1],"nice":false,"zero":false}},"text":{"field":"F"}}},
{"transform":[{"filter":"datum.k=='L'"}],
 "mark":{"type":"text","font":"Liberation Serif","fontSize":15,"align":"left","baseline":"middle","color":"black"},
 "encoding":{"x":{"datum":-0.478,"type":"quantitative","title":null,"scale":{"domain":[-0.515,0.52],"nice":false,"zero":false}},"y":{"datum":0.849,"type":"quantitative","title":null,"scale":{"domain":[0,1],"nice":false,"zero":false}},"text":{"field":"No"}}},
{"transform":[{"filter":"datum.k=='L'"}],
 "mark":{"type":"text","font":"Liberation Serif","fontSize":13,"fontStyle":"italic","align":"center","baseline":"middle","color":"black","text":"f"},
 "encoding":{"x":{"datum":-0.325,"type":"quantitative","title":null,"scale":{"domain":[-0.515,0.52],"nice":false,"zero":false}},"y":{"datum":0.892,"type":"quantitative","title":null,"scale":{"domain":[0,1],"nice":false,"zero":false}}}},
{"transform":[{"filter":"datum.k=='L'"}],
 "mark":{"type":"text","font":"Liberation Serif","fontSize":12,"fontStyle":"italic","align":"center","baseline":"middle","color":"black"},
 "encoding":{"x":{"datum":-0.252,"type":"quantitative","title":null,"scale":{"domain":[-0.515,0.52],"nice":false,"zero":false}},"y":{"datum":0.928,"type":"quantitative","title":null,"scale":{"domain":[0,1],"nice":false,"zero":false}},"text":{"field":"t1"}}},
{"transform":[{"filter":"datum.k=='L'"}],
 "mark":{"type":"text","font":"Liberation Serif","fontSize":12,"fontStyle":"italic","align":"center","baseline":"middle","color":"black"},
 "encoding":{"x":{"datum":-0.252,"type":"quantitative","title":null,"scale":{"domain":[-0.515,0.52],"nice":false,"zero":false}},"y":{"datum":0.852,"type":"quantitative","title":null,"scale":{"domain":[0,1],"nice":false,"zero":false}},"text":{"field":"t2"}}},
{"transform":[{"filter":"datum.k=='L'"}],
 "mark":{"type":"text","font":"Liberation Serif","fontSize":13,"align":"center","baseline":"middle","color":"black","text":"="},
 "encoding":{"x":{"datum":-0.17,"type":"quantitative","title":null,"scale":{"domain":[-0.515,0.52],"nice":false,"zero":false}},"y":{"datum":0.892,"type":"quantitative","title":null,"scale":{"domain":[0,1],"nice":false,"zero":false}}}},
{"transform":[{"filter":"datum.k=='L'"}],
 "mark":{"type":"text","font":"Liberation Serif","fontSize":12,"align":"center","baseline":"middle","color":"black","text":"1"},
 "encoding":{"x":{"datum":0.0,"type":"quantitative","title":null,"scale":{"domain":[-0.515,0.52],"nice":false,"zero":false}},"y":{"datum":0.926,"type":"quantitative","title":null,"scale":{"domain":[0,1],"nice":false,"zero":false}}}},
{"transform":[{"filter":"datum.k=='L'"}],
 "mark":{"type":"text","font":"Liberation Serif","fontSize":13.5,"fontStyle":"italic","align":"center","baseline":"middle","color":"black"},
 "encoding":{"x":{"datum":0.0,"type":"quantitative","title":null,"scale":{"domain":[-0.515,0.52],"nice":false,"zero":false}},"y":{"datum":0.85,"type":"quantitative","title":null,"scale":{"domain":[0,1],"nice":false,"zero":false}},"text":{"field":"t3"}}},
{"transform":[{"filter":"datum.k=='L'"}],
 "mark":{"type":"text","font":"Liberation Serif","fontSize":12,"align":"center","baseline":"middle","color":"black","text":"exp"},
 "encoding":{"x":{"datum":0.168,"type":"quantitative","title":null,"scale":{"domain":[-0.515,0.52],"nice":false,"zero":false}},"y":{"datum":0.892,"type":"quantitative","title":null,"scale":{"domain":[0,1],"nice":false,"zero":false}}}},
{"transform":[{"filter":"datum.k=='L'"}],
 "mark":{"type":"text","font":"Liberation Serif","fontSize":12,"align":"center","baseline":"middle","color":"black","text":"\u2212"},
 "encoding":{"x":{"datum":0.237,"type":"quantitative","title":null,"scale":{"domain":[-0.515,0.52],"nice":false,"zero":false}},"y":{"datum":0.892,"type":"quantitative","title":null,"scale":{"domain":[0,1],"nice":false,"zero":false}}}},
{"transform":[{"filter":"datum.k=='L'"}],
 "mark":{"type":"text","font":"Liberation Serif","fontSize":13,"fontStyle":"italic","align":"center","baseline":"middle","color":"black"},
 "encoding":{"x":{"datum":0.366,"type":"quantitative","title":null,"scale":{"domain":[-0.515,0.52],"nice":false,"zero":false}},"y":{"datum":0.93,"type":"quantitative","title":null,"scale":{"domain":[0,1],"nice":false,"zero":false}},"text":{"field":"t4"}}},
{"transform":[{"filter":"datum.k=='L'"}],
 "mark":{"type":"text","font":"Liberation Serif","fontSize":13,"fontStyle":"italic","align":"center","baseline":"middle","color":"black"},
 "encoding":{"x":{"datum":0.37,"type":"quantitative","title":null,"scale":{"domain":[-0.515,0.52],"nice":false,"zero":false}},"y":{"datum":0.851,"type":"quantitative","title":null,"scale":{"domain":[0,1],"nice":false,"zero":false}},"text":{"field":"t5"}}},
{"transform":[{"filter":"datum.k=='L'"}],
 "mark":{"type":"text","font":"Liberation Serif","fontSize":17,"fontStyle":"italic","align":"center","baseline":"middle","color":"black","text":"n"},
 "encoding":{"x":{"datum":-0.586,"type":"quantitative","title":null,"scale":{"domain":[-0.515,0.52],"nice":false,"zero":false}},"y":{"datum":0.81,"type":"quantitative","title":null,"scale":{"domain":[0,1],"nice":false,"zero":false}}}},
{"transform":[{"filter":"datum.k=='L'"}],
 "mark":{"type":"text","font":"Liberation Serif","fontSize":17,"fontStyle":"italic","align":"center","baseline":"middle","color":"black","text":"N"},
 "encoding":{"x":{"datum":-0.586,"type":"quantitative","title":null,"scale":{"domain":[-0.515,0.52],"nice":false,"zero":false}},"y":{"datum":0.722,"type":"quantitative","title":null,"scale":{"domain":[0,1],"nice":false,"zero":false}}}},
{"transform":[{"filter":"datum.k=='L'"}],
 "mark":{"type":"text","font":"Liberation Serif","fontSize":16,"fontStyle":"italic","align":"center","baseline":"middle","color":"black"},
 "encoding":{"x":{"datum":0.275,"type":"quantitative","title":null,"scale":{"domain":[-0.515,0.52],"nice":false,"zero":false}},"y":{"datum":-0.036,"type":"quantitative","title":null,"scale":{"domain":[0,1],"nice":false,"zero":false}},"text":{"field":"t6"}}},
{"transform":[{"filter":"datum.k=='L'"}],
 "mark":{"type":"rule","color":"black","strokeWidth":0.8},
 "encoding":{"x":{"datum":-0.274,"type":"quantitative","title":null,"scale":{"domain":[-0.515,0.52],"nice":false,"zero":false}},"x2":{"datum":-0.23},"y":{"datum":0.892,"type":"quantitative","title":null,"scale":{"domain":[0,1],"nice":false,"zero":false}}}},
{"transform":[{"filter":"datum.k=='L'"}],
 "mark":{"type":"rule","color":"black","strokeWidth":0.8},
 "encoding":{"x":{"datum":-0.14,"type":"quantitative","title":null,"scale":{"domain":[-0.515,0.52],"nice":false,"zero":false}},"x2":{"datum":0.14},"y":{"datum":0.892,"type":"quantitative","title":null,"scale":{"domain":[0,1],"nice":false,"zero":false}}}},
{"transform":[{"filter":"datum.k=='L'"}],
 "mark":{"type":"rule","color":"black","strokeWidth":0.8},
 "encoding":{"x":{"datum":0.254,"type":"quantitative","title":null,"scale":{"domain":[-0.515,0.52],"nice":false,"zero":false}},"x2":{"datum":0.477},"y":{"datum":0.892,"type":"quantitative","title":null,"scale":{"domain":[0,1],"nice":false,"zero":false}}}},
{"transform":[{"filter":"datum.k=='L'"}],
 "mark":{"type":"rule","color":"black","strokeWidth":1.2},
 "encoding":{"x":{"datum":-0.614,"type":"quantitative","title":null,"scale":{"domain":[-0.515,0.52],"nice":false,"zero":false}},"x2":{"datum":-0.558},"y":{"datum":0.77,"type":"quantitative","title":null,"scale":{"domain":[0,1],"nice":false,"zero":false}}}}
]}
}
